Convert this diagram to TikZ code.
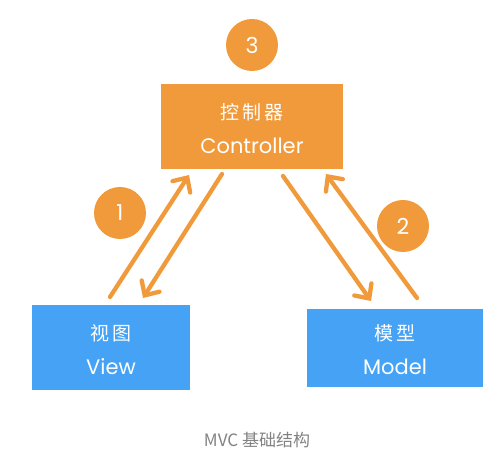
\documentclass[tikz,border=0pt]{standalone}
\usepackage{fontspec}
\setmainfont{Poppins}
\newfontfamily\cjk{Noto Sans CJK SC}
\usetikzlibrary{arrows.meta}
\definecolor{mvcorange}{RGB}{241,154,59}
\definecolor{mvcblue}{RGB}{69,162,245}
\definecolor{capgray}{RGB}{130,130,130}
\tikzset{
  orangebox/.style={fill=mvcorange, minimum width=182pt, minimum height=85pt, inner sep=0pt, text=white, align=center},
  bluebox/.style={fill=mvcblue, inner sep=0pt, text=white, align=center},
  zhlabel/.style={text=white, font=\cjk\fontsize{19}{19}\selectfont},
  enlabel/.style={text=white, font=\fontsize{21}{21}\selectfont},
  numcircle/.style={circle, fill=mvcorange, minimum size=52pt, inner sep=0pt, text=white, font=\fontsize{22}{22}\selectfont},
  flowarrow/.style={draw=mvcorange, line width=4.3pt, line cap=round, -{Straight Barb[length=11pt, width=21pt, line cap=round]}},
}
\begin{document}
\begin{tikzpicture}[x=1pt,y=-1pt]
\useasboundingbox (0,0) rectangle (499,462);
% boxes
\node[orangebox] (ctrl) at (252,126.5) {};
\node[bluebox, minimum width=158pt, minimum height=85pt] (view) at (111,347.5) {};
\node[bluebox, minimum width=176pt, minimum height=78pt] (model) at (395,348) {};
% texts
\node[zhlabel] (ctrlzh) at (252,112) {控\,制\,器};
\node[enlabel] (ctrlen) at (252,146) {Controller};
\node[zhlabel] (viewzh) at (111,333) {视\,图};
\node[enlabel] (viewen) at (111,367) {View};
\node[zhlabel] (modelzh) at (395,333) {模\,型};
\node[enlabel] (modelen) at (395,367) {Model};
% circles
\node[numcircle] (n3) at (252,45) {3};
\node[numcircle] (n1) at (120,213) {1};
\node[numcircle] (n2) at (403,226) {2};
% arrow end points
\coordinate (a1s) at (110,297);
\coordinate (a1e) at (189,175);
\coordinate (a2s) at (222,174);
\coordinate (a2e) at (143,298);
\coordinate (a3s) at (283,176);
\coordinate (a3e) at (371,301);
\coordinate (a4s) at (417,298);
\coordinate (a4e) at (326,174);
\draw[flowarrow] (a1s) -- (a1e);
\draw[flowarrow] (a2s) -- (a2e);
\draw[flowarrow] (a3s) -- (a3e);
\draw[flowarrow] (a4s) -- (a4e);
% caption
\node[text=capgray, font=\cjk\fontsize{17}{17}\selectfont] (cap) at (257,440) {MVC 基础结构};
\end{tikzpicture}
\end{document}
